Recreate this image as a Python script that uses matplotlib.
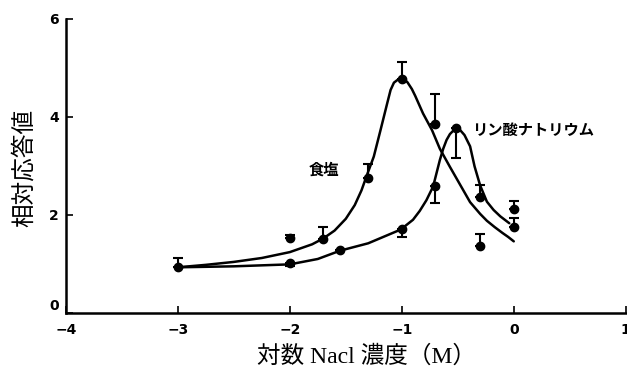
import matplotlib
matplotlib.use("Agg")
import matplotlib.pyplot as plt

# --- data ---
salt_x = [-3.0, -2.0, -1.7, -1.3, -1.0, -0.7, -0.3, 0.0]
salt_y = [0.94, 1.53, 1.50, 2.75, 4.78, 3.85, 1.37, 2.12]
salt_err_up = [0.18, 0.05, 0.26, 0.29, 0.34, 0.61, 0.23, 0.17]

phos_x = [-2.0, -1.55, -1.0, -0.7, -0.52, -0.3, 0.0]
phos_y = [1.01, 1.29, 1.72, 2.59, 3.77, 2.36, 1.75]
phos_err_lo = [0.06, 0.0, 0.17, 0.35, 0.61, 0.0, 0.0]
phos_err_up = [0.0, 0.0, 0.0, 0.0, 0.0, 0.25, 0.18]

salt_curve_x = [-3.0, -2.75, -2.5, -2.25, -2.0, -1.9, -1.8, -1.7, -1.6, -1.5, -1.42,
                -1.36, -1.31, -1.25, -1.19, -1.13, -1.10, -1.07, -1.03, -0.99, -0.95,
                -0.91, -0.88, -0.81, -0.73, -0.66, -0.57, -0.48, -0.39, -0.30, -0.24,
                -0.17, -0.10, -0.05, 0.0]
salt_curve_y = [0.93, 0.98, 1.04, 1.12, 1.24, 1.32, 1.40, 1.52, 1.68, 1.92, 2.20,
                2.50, 2.82, 3.19, 3.73, 4.28, 4.55, 4.70, 4.77, 4.78, 4.71,
                4.57, 4.43, 4.07, 3.73, 3.35, 2.98, 2.62, 2.26, 2.02, 1.88,
                1.75, 1.63, 1.55, 1.46]

phos_curve_x = [-3.0, -2.5, -2.0, -1.75, -1.55, -1.3, -1.01, -0.9, -0.84, -0.78,
                -0.72, -0.69, -0.66, -0.63, -0.60, -0.57, -0.54, -0.49, -0.44,
                -0.39, -0.35, -0.30, -0.24, -0.18, -0.12, -0.04]
phos_curve_y = [0.93, 0.95, 0.99, 1.10, 1.27, 1.42, 1.70, 1.90, 2.08, 2.30,
                2.58, 2.85, 3.12, 3.35, 3.53, 3.65, 3.72, 3.76, 3.63,
                3.40, 2.99, 2.60, 2.27, 2.10, 1.97, 1.83]

x_ticks = [-4, -3, -2, -1, 0, 1]
x_ticklabels = ["\u22124", "\u22123", "\u22122", "\u22121", "0", "1"]
y_ticks = [0, 2, 4, 6]

label_salt = "食塩"
label_phos = "リン酸ナトリウム"
xlabel = "対数 Nacl 濃度（M）"
ylabel = "相対応答値"

cjk = ['Liberation Serif', 'Noto Sans CJK JP', 'DejaVu Sans']

fig = plt.figure(figsize=(6.27, 3.72), dpi=100)
ax = fig.add_axes([0.105, 0.159, 0.893, 0.79])

for cx, cy in [(salt_curve_x, salt_curve_y), (phos_curve_x, phos_curve_y)]:
    ax.plot(cx, cy, color='black', lw=1.8, solid_capstyle='round',
            solid_joinstyle='round')

ax.errorbar(salt_x, salt_y, yerr=[[0] * len(salt_x), salt_err_up], fmt='o',
            color='black', ms=6, capsize=3.5, elinewidth=1.5, capthick=1.5)
ax.errorbar(phos_x, phos_y, yerr=[phos_err_lo, phos_err_up], fmt='o',
            color='black', ms=6, capsize=3.5, elinewidth=1.5, capthick=1.5)

ax.text(-1.83, 2.92, label_salt, fontsize=11, fontweight='bold',
        family=['Noto Sans CJK JP'], va='center', ha='left')
ax.text(-0.37, 3.74, label_phos, fontsize=11, fontweight='bold',
        family=['Noto Sans CJK JP'], va='center', ha='left')

ax.set_xlim(-4, 1)
ax.set_ylim(0, 6)
ax.set_xticks(x_ticks)
ax.set_xticklabels(x_ticklabels)
ax.set_yticks(y_ticks)
for s in ['top', 'right']:
    ax.spines[s].set_visible(False)
for s in ['left', 'bottom']:
    ax.spines[s].set_linewidth(1.8)
ax.tick_params(direction='in', length=5, width=1.2, labelsize=10)
ax.tick_params(axis='x', pad=7)
ax.tick_params(axis='y', pad=5)
for lab in ax.get_xticklabels() + ax.get_yticklabels():
    lab.set_fontweight('bold')
    lab.set_family('DejaVu Sans')
ax.get_yticklabels()[0].set_va('bottom')

fig.text(0.584, 0.042, xlabel, fontsize=17, family=cjk, ha='center', va='center')
fig.text(0.039, 0.548, ylabel, fontsize=17, family=cjk, ha='center', va='center',
         rotation=90)

fig.savefig('out.png', dpi=100)
